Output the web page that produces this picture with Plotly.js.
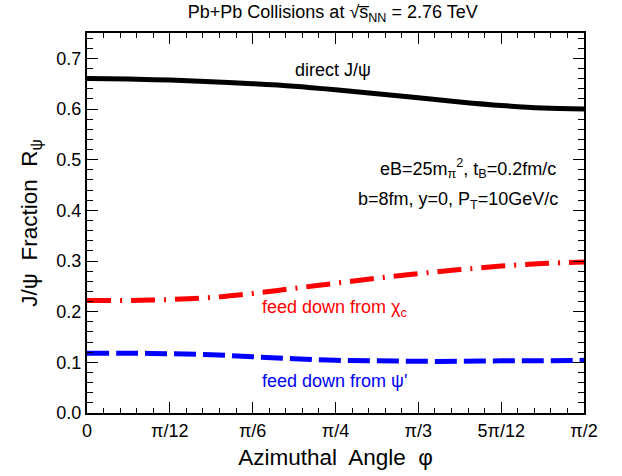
<!DOCTYPE html>
<html><head><meta charset="utf-8">
<script src="https://cdn.plot.ly/plotly-3.0.1.min.js"></script>
<style>body{margin:0;background:#fff}#plot{width:622px;height:476px}</style>
</head><body><div id="plot"></div>
<script>
// Azimuthal angle in degrees (0 .. 90 = pi/2)
const phiDeg = [0, 7.5, 15, 22.5, 30, 37.5, 45, 52.5, 60, 67.5, 75, 82.5, 90];
const directJpsi = [0.660, 0.659, 0.657, 0.654, 0.650, 0.645, 0.638, 0.630, 0.622, 0.614, 0.607, 0.602, 0.600];
const feedChiC   = [0.222, 0.222, 0.224, 0.228, 0.236, 0.246, 0.256, 0.266, 0.275, 0.283, 0.290, 0.295, 0.298];
const feedPsiP   = [0.118, 0.118, 0.117, 0.115, 0.111, 0.107, 0.104, 0.103, 0.102, 0.102, 0.103, 0.103, 0.104];
const xTickVals  = [0, 15, 30, 45, 60, 75, 90];
const xTickText  = ["0", "π/12", "π/6", "π/4", "π/3", "5π/12", "π/2"];
const yTickVals  = [0, 0.1, 0.2, 0.3, 0.4, 0.5, 0.6, 0.7];
const yTickText  = ["0.0", "0.1", "0.2", "0.3", "0.4", "0.5", "0.6", "0.7"];

const FONT = "Liberation Sans, Arial, Helvetica, sans-serif";

const traces = [
  {x: phiDeg, y: directJpsi, mode: "lines", line: {color: "#000000", width: 5, shape: "spline"}, name: "direct J/ψ"},
  {x: phiDeg, y: feedChiC, mode: "lines", line: {color: "#ff0000", width: 5, dash: "24px,9px,2px,9px", shape: "spline"}, name: "χc"},
  {x: phiDeg, y: feedPsiP, mode: "lines", line: {color: "#0000ff", width: 5, dash: "22px,7px", shape: "spline"}, name: "ψ'"}
];

const axisCommon = {
  showgrid: false, zeroline: false, showline: true, linecolor: "#000", linewidth: 2,
  mirror: "allticks", ticks: "inside", ticklen: 11, tickwidth: 1, tickcolor: "#000",
  tickfont: {family: FONT, size: 18, color: "#000"}, ticklabeloverflow: "allow"
};

const layout = {
  width: 622, height: 476,
  margin: {l: 87, r: 38, t: 33, b: 63},
  paper_bgcolor: "#fff", plot_bgcolor: "#fff",
  showlegend: false,
  font: {family: FONT, color: "#000"},
  title: {text: "Pb+Pb Collisions at √s̅<sub>NN</sub> = 2.76 TeV", font: {family: FONT, size: 18, color: "#000"}, x: 0.535, xanchor: "center", y: 0.975, yanchor: "middle"},
  xaxis: Object.assign({}, axisCommon, {
    range: [0, 90], tickmode: "array", tickvals: xTickVals, ticktext: xTickText,
    minor: {ticks: "inside", dtick: 3, ticklen: 5, tickcolor: "#000", tickwidth: 1},
    title: {text: "Azimuthal  Angle  φ", font: {family: FONT, size: 22.5, color: "#000"}, standoff: 10}
  }),
  yaxis: Object.assign({}, axisCommon, {
    range: [0, 0.75], tickmode: "array", tickvals: yTickVals, ticktext: yTickText,
    minor: {ticks: "inside", dtick: 0.02, ticklen: 6, tickcolor: "#000", tickwidth: 1},
    title: {text: "J/ψ  Fraction  R<sub>ψ</sub>", font: {family: FONT, size: 22.5, color: "#000"}, standoff: 12}
  }),
  annotations: [
    {xref: "x", yref: "y", x: 44.5, y: 0.677, text: "direct J/ψ", showarrow: false, font: {family: FONT, size: 18, color: "#000"}},
    {xref: "paper", yref: "y", x: 0.948, y: 0.483, xanchor: "right", text: "eB=25m<sub>π</sub><sup>2</sup>, t<sub>B</sub>=0.2fm/c", showarrow: false, font: {family: FONT, size: 18, color: "#000"}},
    {xref: "paper", yref: "y", x: 0.952, y: 0.42, xanchor: "right", text: "b=8fm, y=0, P<sub>T</sub>=10GeV/c", showarrow: false, font: {family: FONT, size: 18, color: "#000"}},
    {xref: "x", yref: "y", x: 31.3, y: 0.207, xanchor: "left", yanchor: "middle", text: "feed down from χ<sub>c</sub>", showarrow: false, font: {family: FONT, size: 18, color: "#ff0000"}},
    {xref: "x", yref: "y", x: 31.3, y: 0.063, xanchor: "left", yanchor: "middle", text: "feed down from ψ'", showarrow: false, font: {family: FONT, size: 18, color: "#0000ff"}}
  ]
};

Plotly.newPlot("plot", traces, layout, {staticPlot: true, displayModeBar: false});
</script>
</body></html>
